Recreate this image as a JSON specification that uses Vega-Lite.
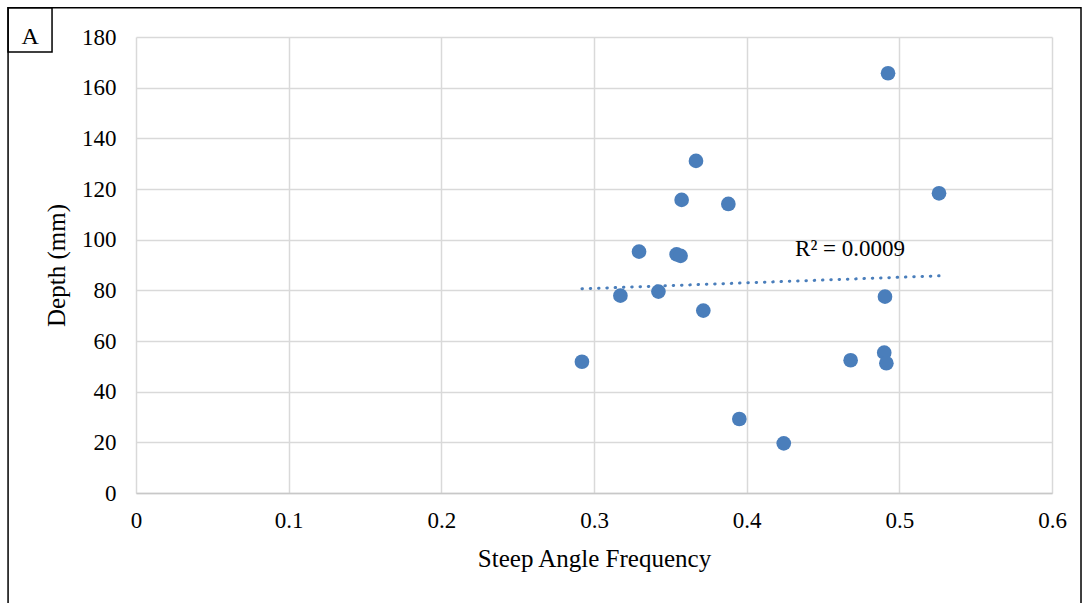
{
  "$schema": "https://vega.github.io/schema/vega-lite/v6.json",
  "width": 916,
  "height": 456,
  "padding": {"left": 7, "top": 7, "right": 0, "bottom": 0},
  "background": "white",
  "config": {
    "view": {"stroke": null},
    "font": "Liberation Serif",
    "axis": {
      "labelFont": "Liberation Serif",
      "titleFont": "Liberation Serif",
      "labelFontSize": 23,
      "titleFontSize": 25,
      "labelColor": "#000000",
      "titleColor": "#000000",
      "titleFontWeight": "normal",
      "gridColor": "#d9d9d9",
      "gridWidth": 1.5,
      "ticks": false,
      "domainColor": "#c8c8c8",
      "domainWidth": 1.5
    }
  },
  "datasets": {
    "points": [
      {"freq": 0.2921, "depth": 51.8},
      {"freq": 0.3173, "depth": 77.9},
      {"freq": 0.3295, "depth": 95.3},
      {"freq": 0.3422, "depth": 79.5},
      {"freq": 0.3541, "depth": 94.2},
      {"freq": 0.3567, "depth": 93.6},
      {"freq": 0.3574, "depth": 115.7},
      {"freq": 0.3668, "depth": 131.1},
      {"freq": 0.3716, "depth": 72.0},
      {"freq": 0.388, "depth": 114.1},
      {"freq": 0.3952, "depth": 29.2},
      {"freq": 0.4243, "depth": 19.6},
      {"freq": 0.4681, "depth": 52.4},
      {"freq": 0.4901, "depth": 55.4},
      {"freq": 0.4915, "depth": 51.2},
      {"freq": 0.4906, "depth": 77.5},
      {"freq": 0.4926, "depth": 165.7},
      {"freq": 0.526, "depth": 118.3}
    ],
    "labels": [
      {"freq": 0.4677, "depth": 93.6, "text": "R² = 0.0009"}
    ],
    "panel": [
      {"freq": -0.0694, "depth": 177.3, "text": "A"}
    ]
  },
  "layer": [
    {
      "data": {"values": [{}]},
      "mark": {"type": "rect", "fill": "transparent", "stroke": "#000000", "strokeWidth": 1.5},
      "encoding": {
        "x": {"datum": -0.0838, "type": "quantitative", "scale": {"domain": [0, 0.6], "nice": false}, "axis": {"title": "Steep Angle Frequency", "values": [0, 0.1, 0.2, 0.3, 0.4, 0.5, 0.6], "format": "~g", "labelPadding": 16, "titlePadding": 14, "grid": true, "labelFlush": false}},
        "x2": {"datum": 0.619},
        "y": {"datum": 191.5, "type": "quantitative", "scale": {"domain": [0, 180], "nice": false}, "axis": {"title": "Depth (mm)", "values": [0, 20, 40, 60, 80, 100, 120, 140, 160, 180], "labelPadding": 20, "titlePadding": 12, "grid": true, "domain": false}},
        "y2": {"datum": -48}
      }
    },
    {
      "data": {"values": [{}]},
      "mark": {"type": "rect", "fill": "transparent", "stroke": "#000000", "strokeWidth": 1.5},
      "encoding": {
        "x": {"datum": -0.0838, "type": "quantitative"},
        "x2": {"datum": -0.055},
        "y": {"datum": 191.5, "type": "quantitative"},
        "y2": {"datum": 174.1}
      }
    },
    {
      "data": {"name": "panel"},
      "mark": {"type": "text", "fontSize": 24, "align": "center", "baseline": "alphabetic", "color": "#000000"},
      "encoding": {
        "x": {"field": "freq", "type": "quantitative"},
        "y": {"field": "depth", "type": "quantitative"},
        "text": {"field": "text"}
      }
    },
    {
      "data": {"name": "points"},
      "transform": [{"regression": "depth", "on": "freq", "method": "linear"}],
      "mark": {"type": "line", "color": "#4a7ebb", "strokeWidth": 3, "strokeDash": [0.5, 7.8], "strokeCap": "round"},
      "encoding": {
        "x": {"field": "freq", "type": "quantitative"},
        "y": {"field": "depth", "type": "quantitative"}
      }
    },
    {
      "data": {"name": "points"},
      "mark": {"type": "circle", "color": "#4a7ebb", "opacity": 1, "size": 215},
      "encoding": {
        "x": {"field": "freq", "type": "quantitative"},
        "y": {"field": "depth", "type": "quantitative"}
      }
    },
    {
      "data": {"name": "labels"},
      "mark": {"type": "text", "fontSize": 23, "align": "center", "baseline": "alphabetic", "color": "#000000"},
      "encoding": {
        "x": {"field": "freq", "type": "quantitative"},
        "y": {"field": "depth", "type": "quantitative"},
        "text": {"field": "text"}
      }
    }
  ]
}
